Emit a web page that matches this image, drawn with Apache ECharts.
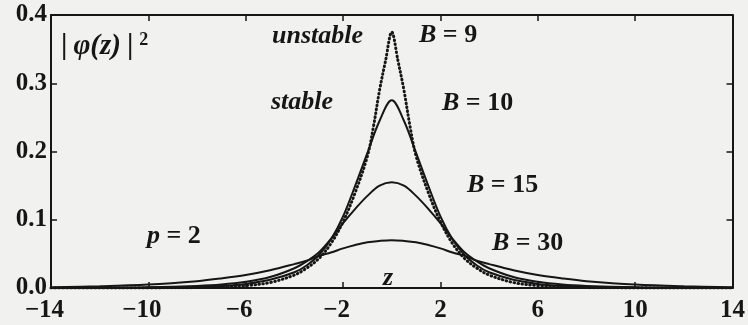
<!DOCTYPE html>
<html>
<head>
<meta charset="utf-8">
<script src="https://cdn.jsdelivr.net/npm/echarts@6/dist/echarts.min.js"></script>
<style>
  html, body { margin: 0; padding: 0; background: #f1f1ef; }
  #main { width: 748px; height: 325px; }
</style>
</head>
<body>
<div id="main"></div>
<script>
// values, curves are symmetric in z
var xTicks = [-14, -10, -6, -2, 2, 6, 10, 14];
var yTicks = [0.0, 0.1, 0.2, 0.3, 0.4];

var zGrid = [-14, -12, -10, -8, -7, -6, -5, -4, -3.5, -3, -2.5, -2, -1.5, -1, -0.5, 0,
             0.5, 1, 1.5, 2, 2.5, 3, 3.5, 4, 5, 6, 7, 8, 10, 12, 14];
var b10 = [0, 0.0001, 0.0004, 0.0015, 0.003, 0.006, 0.012, 0.023, 0.033, 0.048, 0.071, 0.105, 0.15, 0.198, 0.245, 0.275,
           0.245, 0.198, 0.15, 0.105, 0.071, 0.048, 0.033, 0.023, 0.012, 0.006, 0.003, 0.0015, 0.0004, 0.0001, 0];
var b15 = [0.0001, 0.0003, 0.001, 0.003, 0.005, 0.009, 0.016, 0.029, 0.039, 0.052, 0.072, 0.095, 0.116, 0.135, 0.15, 0.155,
           0.15, 0.135, 0.116, 0.095, 0.072, 0.052, 0.039, 0.029, 0.016, 0.009, 0.005, 0.003, 0.001, 0.0003, 0.0001];
var b30 = [0.0012, 0.0025, 0.005, 0.01, 0.014, 0.019, 0.026, 0.035, 0.04, 0.047, 0.052, 0.058, 0.063, 0.067, 0.069, 0.07,
           0.069, 0.067, 0.063, 0.058, 0.052, 0.047, 0.04, 0.035, 0.026, 0.019, 0.014, 0.01, 0.005, 0.0025, 0.0012];

// B = 9 (unstable) has a sharp peak, so it gets a finer grid near z = 0
var z9 = [-14, -12, -10, -8, -7, -6, -5, -4, -3.5, -3, -2.5, -2, -1.5, -1, -0.75, -0.5, -0.25, 0,
          0.25, 0.5, 0.75, 1, 1.5, 2, 2.5, 3, 3.5, 4, 5, 6, 7, 8, 10, 12, 14];
var b9 = [0, 0, 0.0001, 0.0006, 0.0015, 0.0035, 0.008, 0.019, 0.029, 0.043, 0.065, 0.097, 0.14, 0.193, 0.237, 0.29, 0.334, 0.375,
          0.334, 0.29, 0.237, 0.193, 0.14, 0.097, 0.065, 0.043, 0.029, 0.019, 0.008, 0.0035, 0.0015, 0.0006, 0.0001, 0, 0];

function pairs(xs, ys) {
    return xs.map(function (x, i) { return [x, ys[i]]; });
}

var ink = '#161616';
var serif = '"Liberation Serif", "DejaVu Serif", serif';

var myChart = echarts.init(document.getElementById('main'));

function axisBase(pos) {
    return {
        position: pos,
        axisLine: { show: true, onZero: false, lineStyle: { color: ink, width: 2 } },
        axisTick: { show: true, inside: true, length: 6, lineStyle: { color: ink, width: 1.5 } },
        splitLine: { show: false }
    };
}

var xBottom = Object.assign(axisBase('bottom'), {
    type: 'value', min: xTicks[0], max: xTicks[xTicks.length - 1], interval: 4,
    axisLabel: {
        margin: 10,
        formatter: function (v) {
            if (v < 0) return '{n|\u2212' + Math.abs(v) + '}{p|}';
            return '{n|' + v + '}';
        },
        rich: {
            n: { fontFamily: serif, fontWeight: 'bold', fontSize: 25, color: ink },
            p: { width: 13 }
        }
    }
});
var xTop = Object.assign(axisBase('top'), {
    type: 'value', min: xTicks[0], max: xTicks[xTicks.length - 1], interval: 4,
    axisLabel: { show: false }
});
var yLeft = Object.assign(axisBase('left'), {
    type: 'value', min: yTicks[0], max: yTicks[yTicks.length - 1], interval: 0.1,
    axisLabel: {
        margin: 4,
        fontFamily: serif, fontWeight: 'bold', fontSize: 25, color: ink,
        formatter: function (v) { return v.toFixed(1); }
    }
});
var yRight = Object.assign(axisBase('right'), {
    type: 'value', min: yTicks[0], max: yTicks[yTicks.length - 1], interval: 0.1,
    axisLabel: { show: false }
});

function curve(name, data, style) {
    return {
        name: name, type: 'line', data: data,
        xAxisIndex: 0, yAxisIndex: 0,
        smooth: 0.35, showSymbol: false, silent: true,
        lineStyle: Object.assign({ color: ink, width: 2 }, style)
    };
}

function label(text, x, y, rich) {
    return {
        type: 'text', x: x, y: y, silent: true,
        style: {
            text: text, textVerticalAlign: 'middle', textAlign: 'left',
            fill: ink, rich: rich
        }
    };
}

var bRich = {
    i: { fontFamily: serif, fontStyle: 'italic', fontWeight: 'bold', fontSize: 26, fill: ink },
    r: { fontFamily: serif, fontWeight: 'bold', fontSize: 26, fill: ink }
};

let option = {
    backgroundColor: '#f1f1ef',
    animation: false,
    grid: { left: 51, right: 14, top: 15, bottom: 37, containLabel: false },
    xAxis: [xBottom, xTop],
    yAxis: [yLeft, yRight],
    series: [
        curve('B = 9', pairs(z9, b9), { type: [0.6, 3.4], width: 3, cap: 'round' }),
        curve('B = 10', pairs(zGrid, b10), {}),
        curve('B = 15', pairs(zGrid, b15), {}),
        curve('B = 30', pairs(zGrid, b30), {})
    ],
    graphic: [
        label('{a||}{i|\u03c6(z)}{a||}{s|2}', 55, 47, {
            a: { fontFamily: serif, fontWeight: 'bold', fontSize: 29, fill: ink, padding: [0, 6, 0, 6] },
            i: { fontFamily: serif, fontStyle: 'italic', fontWeight: 'bold', fontSize: 29, fill: ink },
            s: { fontFamily: serif, fontWeight: 'bold', fontSize: 18, fill: ink, padding: [0, 0, 14, 0] }
        }),
        label('{i|unstable}', 272, 36, bRich),
        label('{i|stable}', 271, 102, bRich),
        label('{i|B}{r| = 9}', 419, 35, bRich),
        label('{i|B}{r| = 10}', 442, 103, bRich),
        label('{i|B}{r| = 15}', 467, 185, bRich),
        label('{i|B}{r| = 30}', 492, 243, bRich),
        label('{i|p}{r| = 2}', 147, 236, bRich),
        label('{i|z}', 383, 278, bRich)
    ]
};
myChart.setOption(option);
</script>
</body>
</html>
